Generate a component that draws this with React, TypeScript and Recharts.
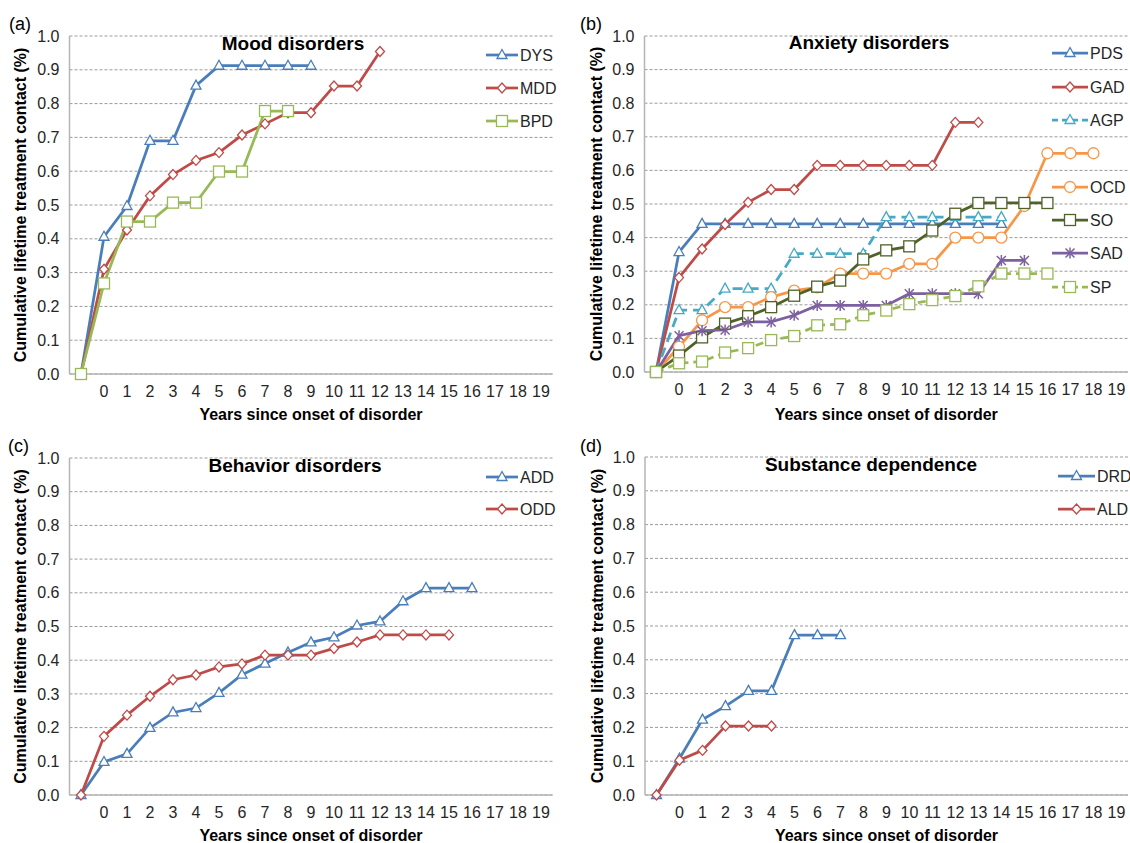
import React from "react";
import { LineChart, Line, XAxis, YAxis, CartesianGrid } from "recharts";

// category axis: a blank start slot, then years 0..19
const years = ["", "0", "1", "2", "3", "4", "5", "6", "7", "8", "9", "10", "11", "12", "13", "14", "15", "16", "17", "18", "19"];
const yTicks = [0, 0.1, 0.2, 0.3, 0.4, 0.5, 0.6, 0.7, 0.8, 0.9, 1.0];

// (a) mood disorders
const dys = [0, 0.406, 0.497, 0.69, 0.69, 0.853, 0.912, 0.912, 0.912, 0.912, 0.912];
const mdd = [0, 0.31, 0.426, 0.527, 0.59, 0.632, 0.655, 0.707, 0.74, 0.773, 0.773, 0.852, 0.852, 0.954];
const bpd = [0, 0.268, 0.451, 0.451, 0.507, 0.507, 0.599, 0.599, 0.778, 0.778];

// (b) anxiety disorders
const pds = [0, 0.357, 0.441, 0.441, 0.441, 0.441, 0.441, 0.441, 0.441, 0.441, 0.441, 0.441, 0.441, 0.441, 0.441, 0.441];
const gad = [0, 0.281, 0.366, 0.439, 0.505, 0.543, 0.543, 0.615, 0.615, 0.615, 0.615, 0.615, 0.615, 0.743, 0.743];
const agp = [0, 0.184, 0.184, 0.248, 0.248, 0.248, 0.352, 0.352, 0.352, 0.352, 0.461, 0.461, 0.461, 0.461, 0.461, 0.461];
const ocd = [0, 0.075, 0.154, 0.193, 0.193, 0.223, 0.242, 0.252, 0.293, 0.293, 0.293, 0.322, 0.322, 0.4, 0.4, 0.4, 0.494, 0.651, 0.651, 0.651];
const so = [0, 0.049, 0.103, 0.144, 0.166, 0.193, 0.227, 0.254, 0.272, 0.335, 0.362, 0.374, 0.421, 0.471, 0.503, 0.503, 0.503, 0.503];
const sad = [0, 0.108, 0.123, 0.125, 0.149, 0.149, 0.169, 0.198, 0.198, 0.198, 0.198, 0.233, 0.233, 0.233, 0.233, 0.332, 0.332];
const sp = [0, 0.026, 0.031, 0.058, 0.071, 0.095, 0.107, 0.139, 0.142, 0.169, 0.183, 0.202, 0.214, 0.226, 0.255, 0.293, 0.293, 0.293];

// (c) behavior disorders
const add = [0, 0.098, 0.122, 0.199, 0.245, 0.258, 0.303, 0.357, 0.39, 0.423, 0.453, 0.468, 0.503, 0.515, 0.575, 0.614, 0.614, 0.614];
const odd = [0, 0.174, 0.237, 0.293, 0.342, 0.356, 0.38, 0.389, 0.415, 0.415, 0.415, 0.435, 0.454, 0.475, 0.475, 0.475, 0.475];

// (d) substance dependence
const drd = [0, 0.108, 0.223, 0.263, 0.308, 0.308, 0.473, 0.473, 0.473];
const ald = [0, 0.103, 0.132, 0.204, 0.204, 0.204];

const BLUE = "#4A7EBB";
const RED = "#BE4B48";
const GREEN = "#98B954";
const CYAN = "#46AAC5";
const ORANGE = "#F79646";
const DKGREEN = "#4F6228";
const PURPLE = "#7D60A0";

const FONT = "'Liberation Sans', Arial, sans-serif";
const W = 565;
const H = 421;

type Shape = "triangle" | "diamond" | "square" | "circle" | "star";

type Series = {
  key: string;
  name: string;
  values: number[];
  color: string;
  shape: Shape;
  dash?: string;
  legendY: number;
};

type PanelCfg = {
  letter: string;
  title: string;
  left: number;
  top: number;
  plotLeft: number;
  plotRight: number;
  plotTop: number;
  plotBottom: number;
  letterX: number;
  letterY: number;
  titleX: number;
  titleY: number;
  yLabelX: number;
  legendX: number;
  legendW: number;
  series: Series[];
};

function drawMarker(shape: Shape, color: string, cx: number, cy: number, key: string) {
  const common = { fill: "#fff", stroke: color, strokeWidth: 1.3 };
  if (shape === "triangle") {
    return <polygon key={key} points={`${cx},${cy - 5.5} ${cx + 5},${cy + 3.5} ${cx - 5},${cy + 3.5}`} {...common} />;
  }
  if (shape === "diamond") {
    return <polygon key={key} points={`${cx},${cy - 5} ${cx + 4.5},${cy} ${cx},${cy + 5} ${cx - 4.5},${cy}`} {...common} />;
  }
  if (shape === "square") {
    return <rect key={key} x={cx - 5.5} y={cy - 5.5} width={11} height={11} {...common} />;
  }
  if (shape === "circle") {
    return <circle key={key} cx={cx} cy={cy} r={5.5} {...common} />;
  }
  return (
    <g key={key} stroke={color} strokeWidth={1.5}>
      <line x1={cx - 4.5} y1={cy - 4.5} x2={cx + 4.5} y2={cy + 4.5} />
      <line x1={cx - 4.5} y1={cy + 4.5} x2={cx + 4.5} y2={cy - 4.5} />
      <line x1={cx} y1={cy - 5.5} x2={cx} y2={cy + 5.5} />
    </g>
  );
}

const panels: PanelCfg[] = [
  {
    letter: "(a)", title: "Mood disorders", left: 0, top: 0,
    plotLeft: 69.5, plotRight: 552.5, plotTop: 36, plotBottom: 374,
    letterX: 9, letterY: 30, titleX: 293, titleY: 50, yLabelX: 20,
    legendX: 486, legendW: 32,
    series: [
      { key: "dys", name: "DYS", values: dys, color: BLUE, shape: "triangle", legendY: 55 },
      { key: "mdd", name: "MDD", values: mdd, color: RED, shape: "diamond", legendY: 88 },
      { key: "bpd", name: "BPD", values: bpd, color: GREEN, shape: "square", legendY: 121 },
    ],
  },
  {
    letter: "(b)", title: "Anxiety disorders", left: 565, top: 0,
    plotLeft: 79.5, plotRight: 563, plotTop: 36, plotBottom: 372,
    letterX: 15, letterY: 30, titleX: 304, titleY: 49, yLabelX: 31,
    legendX: 487, legendW: 36,
    series: [
      { key: "pds", name: "PDS", values: pds, color: BLUE, shape: "triangle", legendY: 53 },
      { key: "gad", name: "GAD", values: gad, color: RED, shape: "diamond", legendY: 87 },
      { key: "agp", name: "AGP", values: agp, color: CYAN, shape: "triangle", dash: "10 6", legendY: 120 },
      { key: "ocd", name: "OCD", values: ocd, color: ORANGE, shape: "circle", legendY: 187 },
      { key: "so", name: "SO", values: so, color: DKGREEN, shape: "square", legendY: 220 },
      { key: "sad", name: "SAD", values: sad, color: PURPLE, shape: "star", legendY: 253 },
      { key: "sp", name: "SP", values: sp, color: GREEN, shape: "square", dash: "8 5", legendY: 287 },
    ],
  },
  {
    letter: "(c)", title: "Behavior disorders", left: 0, top: 421,
    plotLeft: 69.5, plotRight: 552.5, plotTop: 37, plotBottom: 374,
    letterX: 8, letterY: 31, titleX: 295, titleY: 51, yLabelX: 20,
    legendX: 486, legendW: 32,
    series: [
      { key: "add", name: "ADD", values: add, color: BLUE, shape: "triangle", legendY: 56 },
      { key: "odd", name: "ODD", values: odd, color: RED, shape: "diamond", legendY: 88 },
    ],
  },
  {
    letter: "(d)", title: "Substance dependence", left: 565, top: 421,
    plotLeft: 80, plotRight: 563, plotTop: 36, plotBottom: 374,
    letterX: 15, letterY: 31, titleX: 306, titleY: 50, yLabelX: 32,
    legendX: 493, legendW: 37,
    series: [
      { key: "drd", name: "DRD", values: drd, color: BLUE, shape: "triangle", legendY: 55 },
      { key: "ald", name: "ALD", values: ald, color: RED, shape: "diamond", legendY: 88 },
    ],
  },
];

function Panel({ cfg }: { cfg: PanelCfg }) {
  const data = years.map((y, i) => {
    const row: Record<string, string | number | null> = { year: y };
    cfg.series.forEach((s) => {
      row[s.key] = i < s.values.length ? s.values[i] : null;
    });
    return row;
  });
  const plotW = cfg.plotRight - cfg.plotLeft;
  const half = plotW / years.length / 2;
  const midX = (cfg.plotLeft + cfg.plotRight) / 2;
  const midY = (cfg.plotTop + cfg.plotBottom) / 2;

  return (
    <div style={{ position: "absolute", left: cfg.left, top: cfg.top, width: W, height: H, fontFamily: FONT }}>
      <LineChart
        width={W}
        height={H}
        data={data}
        margin={{ top: cfg.plotTop, right: W - cfg.plotRight, bottom: 0, left: 0 }}
      >
        <CartesianGrid vertical={false} stroke="#9a9a9a" strokeDasharray="3 2" />
        <XAxis
          dataKey="year"
          interval={0}
          padding={{ left: half, right: half }}
          tickLine={false}
          axisLine={{ stroke: "#b5b5b5", strokeWidth: 1.5 }}
          tick={{ fill: "#262626", fontSize: 16 }}
          tickMargin={6}
          height={H - cfg.plotBottom}
        />
        <YAxis
          width={cfg.plotLeft}
          domain={[0, 1]}
          ticks={yTicks}
          tickFormatter={(v: number) => v.toFixed(1)}
          tickLine={false}
          axisLine={{ stroke: "#b5b5b5", strokeWidth: 1.5 }}
          tick={{ fill: "#262626", fontSize: 16 }}
          tickMargin={4}
        />
        {cfg.series.map((s) => (
          <Line
            key={s.key}
            dataKey={s.key}
            name={s.name}
            type="linear"
            stroke={s.color}
            strokeWidth={2.75}
            strokeDasharray={s.dash}
            isAnimationActive={false}
            activeDot={false}
            dot={(p: any) => {
              const k = `${s.key}-${p.index}`;
              if (p.value == null || p.cx == null || p.cy == null) return <g key={k} />;
              return drawMarker(s.shape, s.color, p.cx, p.cy, k);
            }}
          />
        ))}
      </LineChart>
      <svg width={W} height={H} style={{ position: "absolute", left: 0, top: 0, overflow: "visible", pointerEvents: "none" }}>
        <text x={cfg.letterX} y={cfg.letterY} fontSize={18} fill="#000">{cfg.letter}</text>
        <text x={cfg.titleX} y={cfg.titleY} fontSize={19} fontWeight={700} textAnchor="middle" fill="#000">{cfg.title}</text>
        <text x={midX} y={420} fontSize={16} fontWeight={700} textAnchor="middle" fill="#000">Years since onset of disorder</text>
        <text
          x={cfg.yLabelX}
          y={midY}
          fontSize={16}
          fontWeight={700}
          textAnchor="middle"
          dominantBaseline="central"
          fill="#000"
          transform={`rotate(-90, ${cfg.yLabelX}, ${midY})`}
        >
          Cumulative lifetime treatment contact (%)
        </text>
        {cfg.series.map((s) => (
          <g key={s.key}>
            <line
              x1={cfg.legendX}
              y1={s.legendY}
              x2={cfg.legendX + cfg.legendW}
              y2={s.legendY}
              stroke={s.color}
              strokeWidth={2.75}
              strokeDasharray={s.dash ? "6 4" : undefined}
            />
            {drawMarker(s.shape, s.color, cfg.legendX + cfg.legendW / 2, s.legendY, `lg-${s.key}`)}
            <text x={cfg.legendX + cfg.legendW + 2} y={s.legendY} fontSize={16} dominantBaseline="central" fill="#262626">
              {s.name}
            </text>
          </g>
        ))}
      </svg>
    </div>
  );
}

export default function App() {
  return (
    <div style={{ position: "absolute", left: 0, top: 0, width: 1130, height: 843, background: "#fff" }}>
      {panels.map((p) => (
        <Panel key={p.letter} cfg={p} />
      ))}
    </div>
  );
}
